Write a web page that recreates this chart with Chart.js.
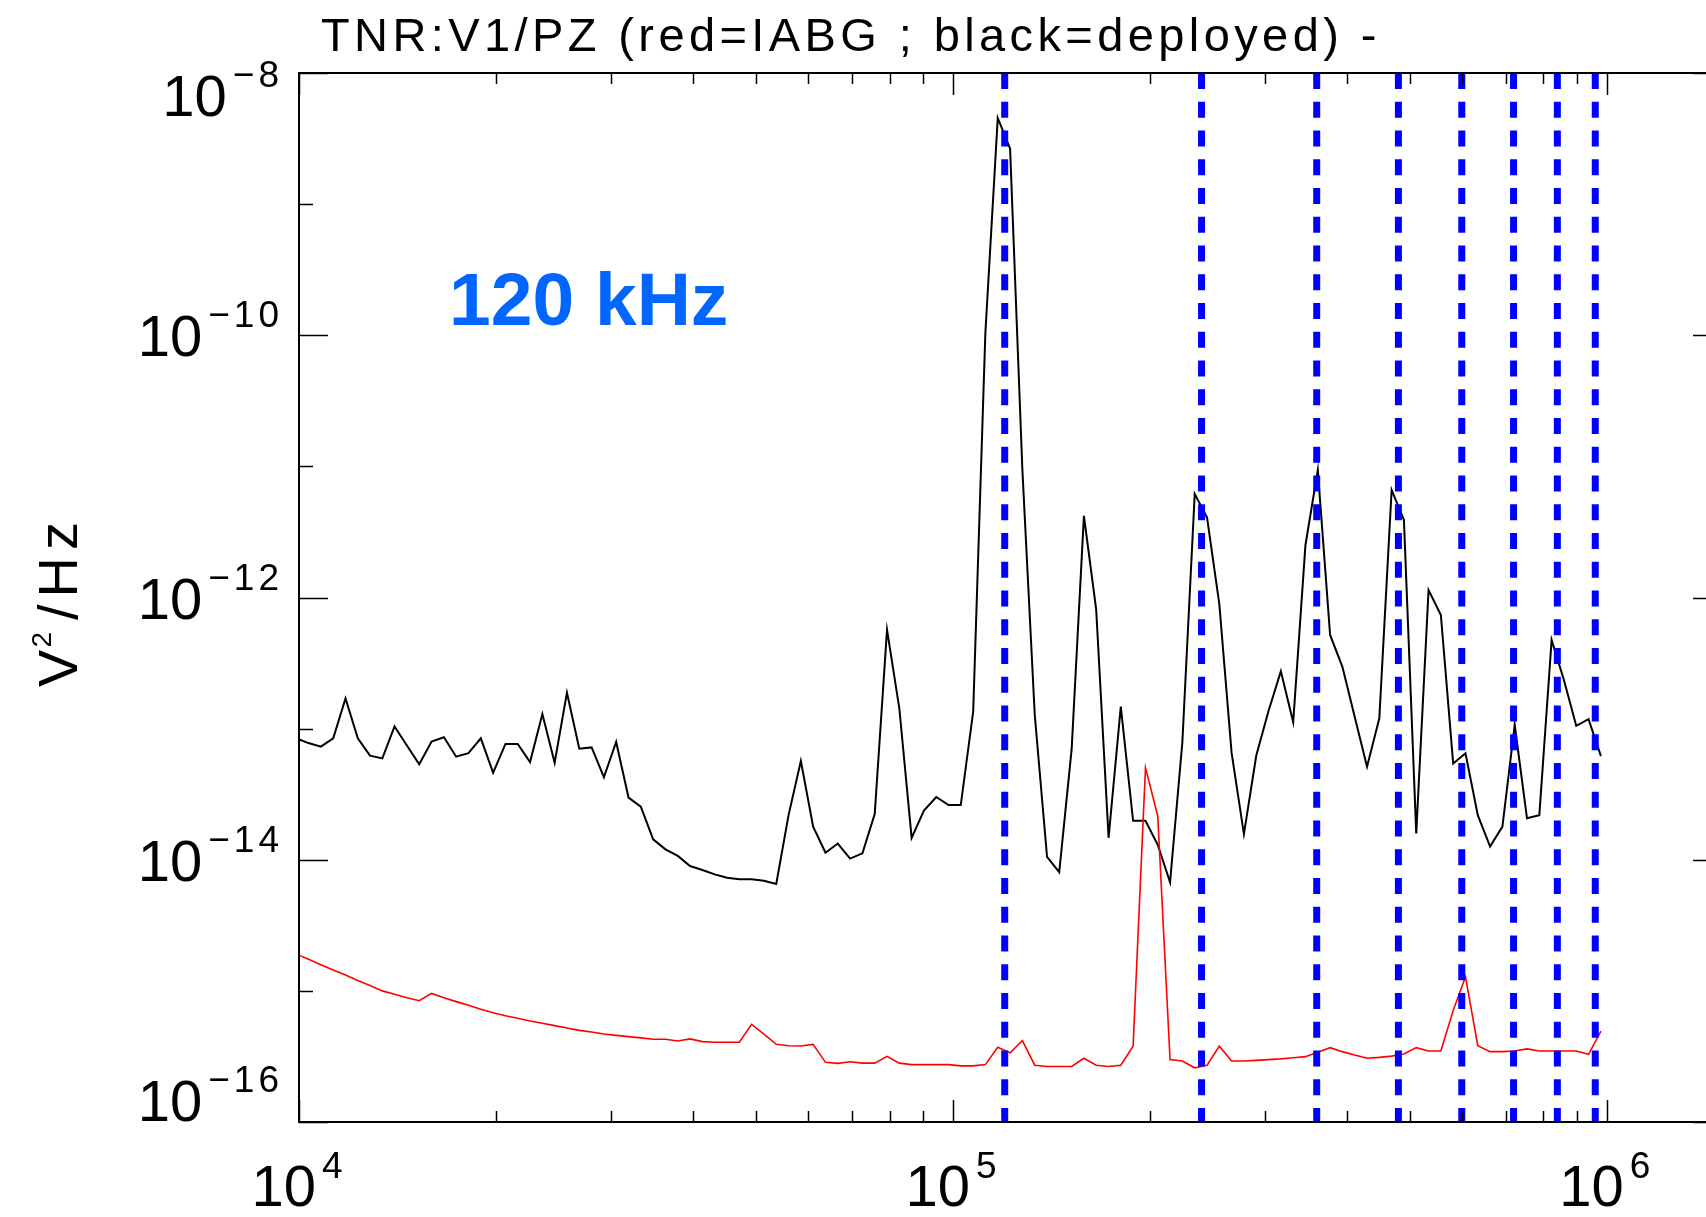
<!DOCTYPE html>
<html lang="en">
<head>
    <meta charset="UTF-8">
    <title>TNR V1/PZ spectrum</title>
    <script src="https://cdn.jsdelivr.net/npm/chart.js"></script>
    <style>
        html, body { margin: 0; padding: 0; background: #fff; overflow: hidden; }
        #wrap { width: 1706px; height: 1217px; overflow: hidden; }
    </style>
</head>
<body>
    <div id="wrap"><canvas id="spectrum" width="1740" height="1217"></canvas></div>

    <script>
        // TNR channel frequencies (kHz)
        const freqKHz = [
            9.90, 10.34, 10.80, 11.28, 11.78, 12.30, 12.84, 13.41, 14.00, 14.63,
            15.27, 15.95, 16.66, 17.39, 18.16, 18.97, 19.81, 20.69, 21.60, 22.56,
            23.56, 24.60, 25.69, 26.83, 28.02, 29.26, 30.55, 31.91, 33.32, 34.80,
            36.34, 37.95, 39.63, 41.39, 43.22, 45.14, 47.14, 49.22, 51.40, 53.68,
            56.06, 58.54, 61.13, 63.84, 66.67, 69.62, 72.71, 75.93, 79.29, 82.80,
            86.47, 90.30, 94.30, 98.48, 102.8, 107.4, 112.1, 117.1, 122.3, 127.7,
            133.4, 139.3, 145.4, 151.9, 158.6, 165.6, 173.0, 180.6, 188.6, 197.0,
            205.7, 214.8, 224.3, 234.3, 244.7, 255.5, 266.8, 278.6, 291.0, 303.9,
            317.3, 331.4, 346.0, 361.4, 377.4, 394.1, 411.5, 429.8, 448.8, 468.7,
            489.4, 511.1, 533.8, 557.4, 582.1, 607.9, 634.8, 662.9, 692.3, 722.9,
            754.9, 788.4, 823.3, 859.7, 897.8, 937.6, 979.4
        ];

        // black = deployed (V^2/Hz)
        const deployed = [
            8.43e-14, 7.76e-14, 7.28e-14, 8.43e-14, 1.70e-13, 8.43e-14, 6.22e-14, 5.93e-14, 1.04e-13, 7.41e-14,
            5.35e-14, 7.96e-14, 8.59e-14, 6.11e-14, 6.49e-14, 8.43e-14, 4.61e-14, 7.64e-14, 7.64e-14, 5.56e-14,
            1.29e-13, 5.50e-14, 1.88e-13, 7.03e-14, 7.19e-14, 4.26e-14, 7.91e-14, 2.98e-14, 2.54e-14, 1.43e-14,
            1.20e-14, 1.07e-14, 8.95e-15, 8.36e-15, 7.74e-15, 7.29e-15, 7.10e-15, 7.10e-15, 6.92e-15, 6.53e-15,
            2.19e-14, 5.66e-14, 1.79e-14, 1.13e-14, 1.33e-14, 1.02e-14, 1.12e-14, 2.23e-14, 5.68e-13, 1.43e-13,
            1.47e-14, 2.37e-14, 3.01e-14, 2.61e-14, 2.61e-14, 1.35e-13, 1.04e-10, 4.54e-9, 2.65e-9, 9.48e-12,
            1.27e-13, 1.05e-14, 8.05e-15, 6.97e-14, 4.19e-12, 8.13e-13, 1.47e-14, 1.47e-13, 1.98e-14, 1.98e-14,
            1.30e-14, 6.73e-15, 7.83e-14, 6.17e-12, 4.07e-12, 8.91e-13, 6.53e-14, 1.57e-14, 6.24e-14, 1.37e-13,
            2.74e-13, 1.12e-13, 2.51e-12, 9.38e-12, 5.18e-13, 2.96e-13, 1.23e-13, 5.12e-14, 1.20e-13, 6.61e-12,
            3.90e-12, 1.59e-14, 1.14e-12, 7.36e-13, 5.43e-14, 6.49e-14, 2.19e-14, 1.26e-14, 1.79e-14, 1.07e-13,
            2.07e-14, 2.19e-14, 4.74e-13, 2.35e-13, 1.05e-13, 1.18e-13, 6.17e-14
        ];

        // red = IABG (V^2/Hz)
        const iabg = [
            1.91e-15, 1.74e-15, 1.58e-15, 1.44e-15, 1.32e-15, 1.20e-15, 1.10e-15, 1.00e-15, 9.42e-16, 8.87e-16,
            8.41e-16, 9.57e-16, 8.87e-16, 8.28e-16, 7.76e-16, 7.23e-16, 6.82e-16, 6.47e-16, 6.18e-16, 5.89e-16,
            5.66e-16, 5.43e-16, 5.21e-16, 5.00e-16, 4.85e-16, 4.69e-16, 4.58e-16, 4.48e-16, 4.38e-16, 4.28e-16,
            4.28e-16, 4.15e-16, 4.30e-16, 4.10e-16, 4.06e-16, 4.06e-16, 4.06e-16, 5.56e-16, 4.67e-16, 3.91e-16,
            3.82e-16, 3.80e-16, 3.91e-16, 2.85e-16, 2.80e-16, 2.88e-16, 2.81e-16, 2.81e-16, 3.17e-16, 2.81e-16,
            2.74e-16, 2.74e-16, 2.74e-16, 2.74e-16, 2.68e-16, 2.68e-16, 2.74e-16, 3.71e-16, 3.37e-16, 4.18e-16,
            2.71e-16, 2.65e-16, 2.65e-16, 2.65e-16, 3.06e-16, 2.71e-16, 2.65e-16, 2.71e-16, 3.79e-16, 5.04e-14,
            2.15e-14, 2.99e-16, 2.92e-16, 2.59e-16, 2.71e-16, 3.79e-16, 2.92e-16, 2.92e-16, 2.95e-16, 2.99e-16,
            3.03e-16, 3.09e-16, 3.15e-16, 3.40e-16, 3.69e-16, 3.44e-16, 3.24e-16, 3.06e-16, 3.11e-16, 3.18e-16,
            3.30e-16, 3.69e-16, 3.48e-16, 3.48e-16, 7.08e-16, 1.28e-15, 3.82e-16, 3.44e-16, 3.44e-16, 3.48e-16,
            3.61e-16, 3.48e-16, 3.48e-16, 3.48e-16, 3.48e-16, 3.28e-16, 4.94e-16
        ];

        // 120 kHz and its harmonics (blue dashed markers)
        const harmonicsKHz = [120, 240, 360, 480, 600, 720, 840, 960];

        const xRange = [1e4, 1.5e6];
        const yRange = [1e-16, 1e-8];
        const xMajorTicks = [1e4, 1e5, 1e6];
        const xMinorTicks = [2e4, 3e4, 4e4, 5e4, 6e4, 7e4, 8e4, 9e4,
                             2e5, 3e5, 4e5, 5e5, 6e5, 7e5, 8e5, 9e5];
        const yTicks = [1e-16, 1e-15, 1e-14, 1e-13, 1e-12, 1e-11, 1e-10, 1e-9, 1e-8];
        const yLabelled = [1e-16, 1e-14, 1e-12, 1e-10, 1e-8];

        const titleText = 'TNR:V1/PZ (red=IABG ; black=deployed) -';
        const noteText = '120 kHz';

        const FONT = '"Liberation Sans", Arial, sans-serif';

        const toPoints = ys => ys.map((v, i) => ({ x: freqKHz[i] * 1000, y: v }));

        function expText(v) {
            const e = Math.round(Math.log10(v));
            return (e < 0 ? '\u2212' : '') + Math.abs(e);
        }

        function powWidths(ctx, exp) {
            ctx.font = '58px ' + FONT;
            ctx.letterSpacing = '0px';
            const wb = ctx.measureText('10').width;
            ctx.font = '37px ' + FONT;
            ctx.letterSpacing = '4px';
            const we = ctx.measureText(exp).width;
            return { wb, we };
        }

        function drawPow(ctx, exp, left, baseY, expBaseY) {
            const { wb } = powWidths(ctx, exp);
            ctx.font = '58px ' + FONT;
            ctx.letterSpacing = '0px';
            ctx.fillText('10', left, baseY);
            ctx.font = '37px ' + FONT;
            ctx.letterSpacing = '4px';
            ctx.fillText(exp, left + wb + 6, expBaseY);
        }

        // IDL-like frame: inward ticks on all four sides plus labels and titles
        const idlFrame = {
            id: 'idlFrame',
            afterDraw(chart) {
                const { ctx, chartArea: a, scales: { x, y } } = chart;
                ctx.save();
                ctx.strokeStyle = '#000';
                ctx.fillStyle = '#000';

                ctx.lineWidth = 1.5;
                ctx.beginPath();
                const xTick = (v, len) => {
                    const px = Math.round(x.getPixelForValue(v)) + 0.5;
                    ctx.moveTo(px, a.bottom); ctx.lineTo(px, a.bottom - len);
                    ctx.moveTo(px, a.top); ctx.lineTo(px, a.top + len);
                };
                xMinorTicks.forEach(v => xTick(v, 11));
                xMajorTicks.forEach(v => xTick(v, 22));
                yTicks.forEach(v => {
                    const py = Math.round(y.getPixelForValue(v)) + 0.5;
                    const len = yLabelled.includes(v) ? 29 : 14;
                    ctx.moveTo(a.left, py); ctx.lineTo(a.left + len, py);
                    ctx.moveTo(a.right, py); ctx.lineTo(a.right - len, py);
                });
                ctx.stroke();

                ctx.lineWidth = 2;
                ctx.strokeRect(a.left, a.top, a.right - a.left, a.bottom - a.top);

                // y tick labels, right aligned, kept inside the frame height
                ctx.textAlign = 'left';
                ctx.textBaseline = 'alphabetic';
                yLabelled.forEach(v => {
                    const exp = expText(v);
                    const { wb, we } = powWidths(ctx, exp);
                    const py = y.getPixelForValue(v);
                    const mid = Math.min(Math.max(py, a.top + 22), a.bottom - 22);
                    const right = 283;
                    drawPow(ctx, exp, right - we - 6 - wb, mid + 21, mid - 8);
                });

                // x tick labels, centred under the ticks
                xMajorTicks.forEach(v => {
                    const exp = expText(v);
                    const { wb, we } = powWidths(ctx, exp);
                    const px = x.getPixelForValue(v);
                    const total = wb + 6 + we;
                    drawPow(ctx, exp, px - total / 2, a.bottom + 84, a.bottom + 56);
                });

                // y axis title
                ctx.save();
                ctx.translate(57, 601);
                ctx.rotate(-Math.PI / 2);
                ctx.font = '56px ' + FONT;
                ctx.letterSpacing = '7px';
                const wV = ctx.measureText('V').width;
                const wRest = ctx.measureText('/Hz').width;
                ctx.font = '28px ' + FONT;
                const w2 = ctx.measureText('2').width;
                let tx = -(wV + w2 + wRest) / 2;
                ctx.font = '56px ' + FONT;
                ctx.fillText('V', tx, 20);
                tx += wV;
                ctx.font = '28px ' + FONT;
                ctx.fillText('2', tx - 5, -6);
                tx += w2;
                ctx.font = '56px ' + FONT;
                ctx.fillText('/Hz', tx, 20);
                ctx.restore();

                // title
                ctx.font = '47px ' + FONT;
                ctx.letterSpacing = '4.4px';
                ctx.fillText(titleText, 321, 51);

                // annotation
                ctx.font = 'bold 75px ' + FONT;
                ctx.letterSpacing = '0px';
                ctx.fillStyle = '#0066ff';
                ctx.fillText(noteText, 449, 325);

                ctx.restore();
            }
        };

        const harmonicSets = harmonicsKHz.map(h => ({
            label: h + ' kHz',
            data: [{ x: h * 1000, y: yRange[1] }, { x: h * 1000, y: yRange[0] }],
            borderColor: '#0000ff',
            borderWidth: 7,
            borderDash: [16, 12.75],
            borderCapStyle: 'butt',
            pointRadius: 0,
            order: 0
        }));

        const ctx = document.getElementById('spectrum').getContext('2d');
        new Chart(ctx, {
            type: 'line',
            data: {
                datasets: [
                    ...harmonicSets,
                    {
                        label: 'IABG',
                        data: toPoints(iabg),
                        borderColor: '#ff0000',
                        borderWidth: 1.6,
                        pointRadius: 0,
                        tension: 0,
                        clip: 0,
                        order: 1
                    },
                    {
                        label: 'deployed',
                        data: toPoints(deployed),
                        borderColor: '#000000',
                        borderWidth: 2,
                        pointRadius: 0,
                        tension: 0,
                        clip: 0,
                        order: 2
                    }
                ]
            },
            options: {
                responsive: false,
                animation: false,
                devicePixelRatio: 1,
                layout: { padding: { left: 299, top: 73, right: 18, bottom: 95 } },
                plugins: {
                    legend: { display: false },
                    tooltip: { enabled: false },
                    title: { display: false }
                },
                scales: {
                    x: { type: 'logarithmic', min: xRange[0], max: xRange[1], display: false },
                    y: { type: 'logarithmic', min: yRange[0], max: yRange[1], display: false }
                }
            },
            plugins: [idlFrame]
        });
    </script>
</body>
</html>
